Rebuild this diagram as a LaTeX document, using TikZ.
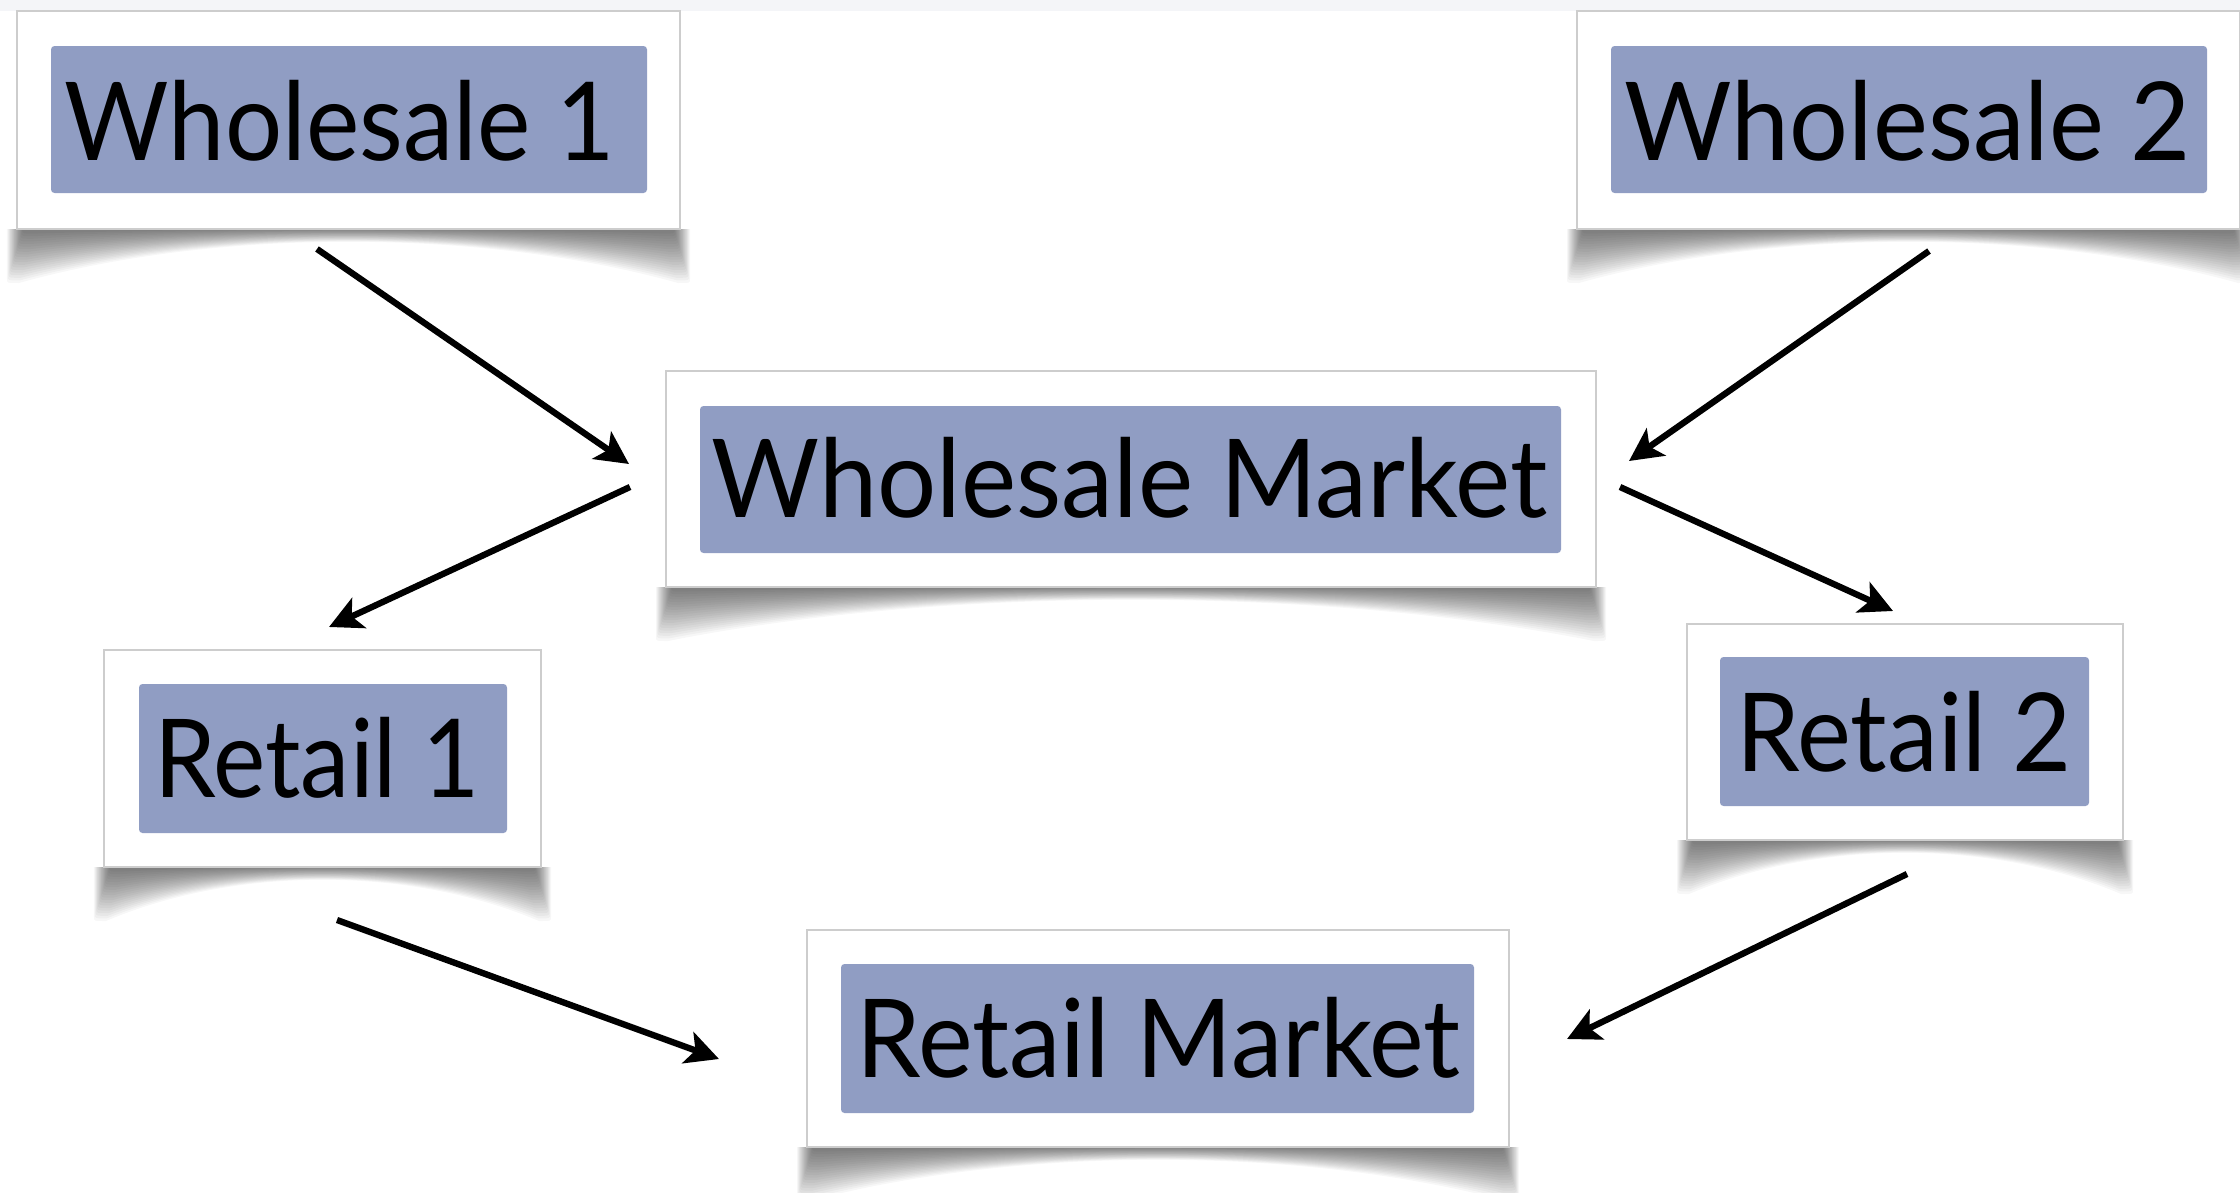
\documentclass[tikz,border=0pt]{standalone}
\usepackage{fontspec}
\setmainfont{Lato}
\usetikzlibrary{arrows.meta}
\definecolor{barblue}{RGB}{144,157,195}
\definecolor{edgegray}{RGB}{205,205,205}
\definecolor{topband}{RGB}{244,245,248}
\tikzset{
 card/.style={draw=edgegray, line width=0.6pt, fill=white, inner sep=0pt, rectangle},
 bar/.style={fill=barblue, draw=none, rounded corners=1pt, inner sep=0pt, rectangle},
 lbl/.style={anchor=base west, inner sep=0pt, font=\fontsize{31pt}{36pt}\selectfont, text=black},
 flow/.style={-{Stealth[length=0.33cm,width=0.33cm,inset=0.08cm]}, line width=1.8pt, black},
}
\newcommand\cardshadow[3]{%
  \foreach \i in {0,...,19}{%
    \pgfmathsetmacro\hh{0.54-0.026*\i}%
    \pgfmathsetmacro\ee{0.10-0.008*\i}%
    \fill[black,opacity=0.03] ({#1-\ee},{#3}) -- ({#1-\ee},{#3-\hh+0.04}) .. controls ({#1-\ee},{#3-\hh}) .. ({#1-\ee+0.12},{#3-\hh}) .. controls ({#1+0.3*(#2-#1)},{#3+0.01}) and ({#2-0.3*(#2-#1)},{#3+0.01}) .. ({#2+\ee-0.12},{#3-\hh}) .. controls ({#2+\ee},{#3-\hh}) .. ({#2+\ee},{#3-\hh+0.04}) -- ({#2+\ee},{#3}) -- cycle;
  }}
\begin{document}
\begin{tikzpicture}
\useasboundingbox (0,0) rectangle (22.4,-11.92);
\fill[white] (0,0) rectangle (22.4,-11.92);
\fill[topband] (0,0) rectangle (22.4,-0.11);

% shadows
\cardshadow{0.17}{6.80}{-2.29}
\cardshadow{15.77}{22.40}{-2.29}
\cardshadow{6.66}{15.96}{-5.87}
\cardshadow{1.04}{5.41}{-8.67}
\cardshadow{16.87}{21.23}{-8.40}
\cardshadow{8.07}{15.09}{-11.47}

% cards
\node[card, minimum width=6.63cm, minimum height=2.18cm] (w1) at (3.485,-1.20) {};
\node[bar, minimum width=5.96cm, minimum height=1.47cm] (w1bar) at (3.49,-1.195) {};
\node[lbl] (w1t) at (0.64,-1.60) {\resizebox{5.50cm}{\height}{Wholesale 1}};

\node[card, minimum width=6.63cm, minimum height=2.18cm] (w2) at (19.085,-1.20) {};
\node[bar, minimum width=5.96cm, minimum height=1.47cm] (w2bar) at (19.09,-1.195) {};
\node[lbl] (w2t) at (16.24,-1.60) {\resizebox{5.66cm}{\height}{Wholesale 2}};

\node[card, minimum width=9.30cm, minimum height=2.16cm] (wm) at (11.31,-4.79) {};
\node[bar, minimum width=8.61cm, minimum height=1.47cm] (wmbar) at (11.305,-4.795) {};
\node[lbl] (wmt) at (7.11,-5.17) {\resizebox{8.36cm}{\height}{Wholesale Market}};

\node[card, minimum width=4.37cm, minimum height=2.17cm] (r1) at (3.225,-7.585) {};
\node[bar, minimum width=3.68cm, minimum height=1.49cm] (r1bar) at (3.23,-7.585) {};
\node[lbl] (r1t) at (1.54,-7.97) {\resizebox{3.25cm}{\height}{Retail 1}};

\node[card, minimum width=4.36cm, minimum height=2.16cm] (r2) at (19.05,-7.32) {};
\node[bar, minimum width=3.69cm, minimum height=1.49cm] (r2bar) at (19.045,-7.315) {};
\node[lbl] (r2t) at (17.36,-7.71) {\resizebox{3.35cm}{\height}{Retail 2}};

\node[card, minimum width=7.02cm, minimum height=2.17cm] (rm) at (11.58,-10.385) {};
\node[bar, minimum width=6.33cm, minimum height=1.49cm] (rmbar) at (11.575,-10.385) {};
\node[lbl] (rmt) at (8.56,-10.77) {\resizebox{6.04cm}{\height}{Retail Market}};

% connector ends
\coordinate (a1s) at (3.17,-2.49);  \coordinate (a1e) at (6.29,-4.64);
\coordinate (a2s) at (19.29,-2.51); \coordinate (a2e) at (16.29,-4.61);
\coordinate (a3s) at (6.30,-4.87);  \coordinate (a3e) at (3.29,-6.27);
\coordinate (a4s) at (16.20,-4.87); \coordinate (a4e) at (18.93,-6.11);
\coordinate (a5s) at (3.37,-9.20);  \coordinate (a5e) at (7.19,-10.59);
\coordinate (a6s) at (19.07,-8.74); \coordinate (a6e) at (15.67,-10.39);

\draw[flow] (a1s) -- (a1e);
\draw[flow] (a2s) -- (a2e);
\draw[flow] (a3s) -- (a3e);
\draw[flow] (a4s) -- (a4e);
\draw[flow] (a5s) -- (a5e);
\draw[flow] (a6s) -- (a6e);
\end{tikzpicture}
\end{document}
